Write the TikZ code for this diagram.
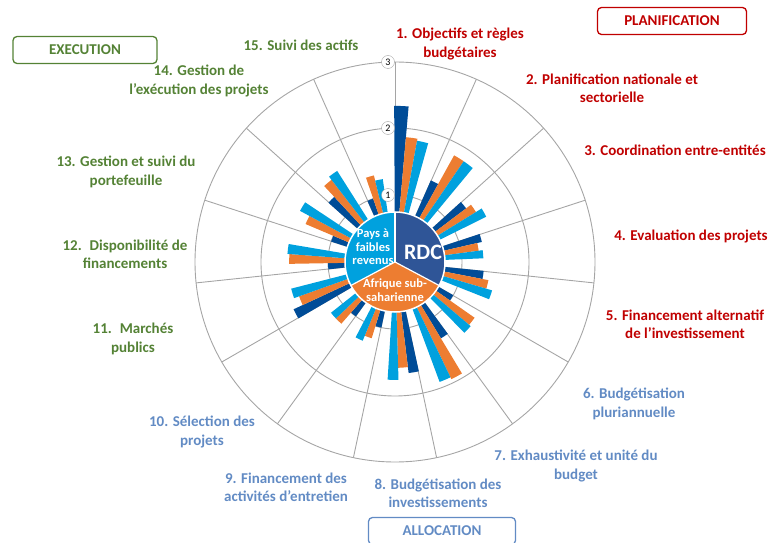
\documentclass[tikz,border=0pt]{standalone}
\usepackage{fontspec}
\setmainfont{Carlito}
\usetikzlibrary{positioning}

\definecolor{rdcblue}{RGB}{0,76,151}
\definecolor{rdcdisc}{RGB}{47,85,151}
\definecolor{ssaorange}{RGB}{237,125,49}
\definecolor{licblue}{RGB}{0,161,222}
\definecolor{planred}{RGB}{192,0,0}
\definecolor{allocblue}{RGB}{98,139,196}
\definecolor{execgreen}{RGB}{84,130,53}
\definecolor{gridgray}{RGB}{165,165,165}

\begin{document}
\begin{tikzpicture}[x=1pt,y=1pt,
  lbl/.style={font=\fontsize{15}{18.3}\selectfont\bfseries, align=center, inner sep=0pt},
  phase/.style={draw, rounded corners=4pt, line width=1.3pt, minimum height=27pt,
    font=\fontsize{15}{18}\selectfont\bfseries},
  disctxt/.style={white, font=\fontsize{12.5}{13.4}\selectfont\bfseries, align=center, inner sep=0pt},
  tick/.style={circle, draw=gridgray, fill=white, inner sep=0pt, minimum size=13pt,
    font=\fontsize{10}{10}\selectfont}]
\useasboundingbox (0,0) rectangle (769,542);
\coordinate (c) at (395,280);

% grid
\foreach \r in {67,134,200}
  \draw[gridgray, line width=0.9pt] (c) circle (\r);
\foreach \k in {0,...,14}
  \draw[gridgray, line width=0.9pt] (c) -- ++(90-24*\k:200);

% bars: RDC / Afrique sub-saharienne / pays a faibles revenus
\foreach \k/\vr/\vs/\vl in {1/2.33/1.87/1.84, 2/1.33/1.82/1.82, 3/1.33/1.42/1.52,
    4/1.33/1.26/1.32, 5/1.33/1.42/1.51, 6/1/1.45/1.48, 7/1.33/1.94/1.91,
    8/1.67/1.58/1.76, 9/1/1.19/1.27, 10/1/1.22/1.22, 11/1.67/1.52/1.60,
    12/1/1.58/1.61, 13/1/1.45/1.61, 14/1.33/1.55/1.61, 15/1/1.33/1.25} {
  \pgfmathsetmacro\s{114.3-24*\k}
  \fill[rdcblue] (c) -- ++(\s:\vr*67) arc[start angle=\s, delta angle=-5.3, radius=\vr*67] -- cycle;
  \fill[ssaorange] (c) -- ++(\s-5.3:\vs*67) arc[start angle=\s-5.3, delta angle=-5.3, radius=\vs*67] -- cycle;
  \fill[licblue] (c) -- ++(\s-10.6:\vl*67) arc[start angle=\s-10.6, delta angle=-5.3, radius=\vl*67] -- cycle;
}

% centre disc
\fill[licblue] (c) -- ++(90:50) arc[start angle=90, end angle=208, radius=50] -- cycle;
\fill[ssaorange] (c) -- ++(208:50) arc[start angle=208, end angle=332, radius=50] -- cycle;
\fill[rdcdisc] (c) -- ++(-28:50) arc[start angle=-28, end angle=90, radius=50] -- cycle;
\draw[white, line width=1.5pt] (c) circle (50);
\foreach \a in {90,208,332}
  \draw[white, line width=1.2pt] (c) -- ++(\a:50);
\node[disctxt] (lic) at (373,295) {Pays à\\faibles\\revenus};
\node[disctxt, font=\fontsize{22}{22}\selectfont\bfseries] (rdc) at (423,290) {RDC};
\node[disctxt] (ssa) at (395,252) {Afrique sub-\\saharienne};

% scale
\foreach \v/\r in {1/67,2/134,3/200}
  \node[tick] (tick\v) at (388,280+\r) {\v};

% dimensions
\node[lbl, planred] (obj) at (460,498) {1. Objectifs et règles\\budgétaires};
\node[lbl, planred] (plan) at (612,454) {2. Planification nationale et\\sectorielle};
\node[lbl, planred] (coord) at (675,392) {3. Coordination entre-entités};
\node[lbl, planred] (eval) at (691,306) {4. Evaluation des projets};
\node[lbl, planred] (fin) at (685,218) {5. Financement alternatif\\de l’investissement};
\node[lbl, allocblue] (pluri) at (634,138) {6. Budgétisation\\pluriannuelle};
\node[lbl, allocblue] (exh) at (576,76) {7. Exhaustivité et unité du\\budget};
\node[lbl, allocblue] (inv) at (438,49) {8. Budgétisation des\\investissements};
\node[lbl, allocblue] (entr) at (286,55) {9. Financement des\\activités d’entretien};
\node[lbl, allocblue] (sel) at (202,110) {10. Sélection des\\projets};
\node[lbl, execgreen] (march) at (133,203) {11.~ Marchés\\publics};
\node[lbl, execgreen] (dispo) at (125,288) {12.~ Disponibilité de\\financements};
\node[lbl, execgreen] (porte) at (126,370) {13. Gestion et suivi du\\portefeuille};
\node[lbl, execgreen] (gest) at (199,461) {14. Gestion de\\l’exécution des projets};
\node[lbl, execgreen] (actifs) at (301,497) {15. Suivi des actifs};

% phases
\node[phase, planred, minimum width=149pt] (planif) at (672,521) {PLANIFICATION};
\node[phase, execgreen, minimum width=144pt] (exec) at (85,492) {EXECUTION};
\node[phase, allocblue, minimum width=147pt] (alloc) at (442,11) {ALLOCATION};
\end{tikzpicture}
\end{document}
